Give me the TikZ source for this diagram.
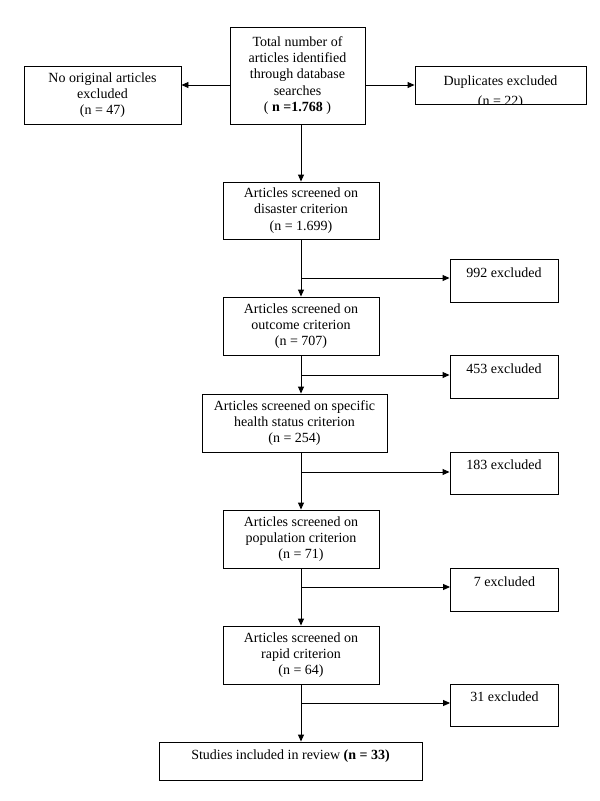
\documentclass[tikz,border=0pt]{standalone}
\usepackage{fontspec}
\setmainfont{Liberation Serif}
\usetikzlibrary{arrows.meta}
\begin{document}
\begin{tikzpicture}[x=1pt,y=-1pt,
  box/.style={draw, line width=0.9pt, inner sep=0pt, align=center, font=\fontsize{14}{16.3}\selectfont},
  exbox/.style={box, minimum width=108pt, minimum height=43pt},
  mainbox/.style={box, minimum width=156pt, minimum height=58pt},
  txt/.style={inner sep=0pt, font=\fontsize{14}{16.3}\selectfont},
  arr/.style={line width=0.9pt, -{Triangle[length=7pt,width=6pt]}},
  ln/.style={line width=0.9pt}]
\useasboundingbox (0,0) rectangle (600,801);

% top row
\node[box, minimum width=135pt, minimum height=97pt] (top) at (297.5,75.5)
  {Total number of\\articles identified\\through database\\searches\\( \textbf{n =1.768} )};
\node[box, minimum width=157pt, minimum height=58pt] (left) at (102.5,95)
  {No original articles\\excluded\\(n = 47)};
\node[box, minimum width=171pt, minimum height=38pt] (dup) at (500.5,85) {};
\node[txt, anchor=base] (dupa) at (500.5,85) {Duplicates excluded};
\begin{scope}
  \clip (415,66) rectangle (586,104);
  \node[txt, anchor=base] (dupb) at (500.5,105) {(n = 22)};
\end{scope}
\coordinate (hy) at (0,85);
\draw[arr] (top.west |- hy) -- (left.east |- hy);
\draw[arr] (top.east |- hy) -- (dup.west |- hy);

% main column
\node[mainbox, minimum height=57pt] (dis) at (301,210.5)
  {Articles screened on\\disaster criterion\\(n = 1.699)};
\node[mainbox] (out) at (301,326)
  {Articles screened on\\outcome criterion\\(n = 707)};
\node[mainbox, minimum width=185pt] (hea) at (294.5,423)
  {Articles screened on specific\\health status criterion\\(n = 254)};
\node[mainbox] (pop) at (301,539)
  {Articles screened on\\population criterion\\(n = 71)};
\node[mainbox] (rap) at (301,655)
  {Articles screened on\\rapid criterion\\(n = 64)};
\node[box, minimum width=263pt, minimum height=38pt] (stu) at (290.5,761)
  {Studies included in review \textbf{(n = 33)}\\[-3pt]\mbox{}};

% excluded boxes
\node[exbox] (ex1) at (504,280.5) {992 excluded\\\mbox{}};
\node[exbox] (ex2) at (504,376.5) {453 excluded\\\mbox{}};
\node[exbox, minimum height=42pt] (ex3) at (504,473) {183 excluded\\\mbox{}};
\node[exbox] (ex4) at (504.5,589.5) {7 excluded\\\mbox{}};
\node[exbox, minimum height=42pt] (ex5) at (504.5,705) {31 excluded\\\mbox{}};

% vertical flow
\draw[arr] (dis.north |- top.south) -- (dis.north);
\draw[arr] (dis.south) -- (out.north);
\draw[arr] (out.south) -- (out.south |- hea.north);
\draw[arr] (out.south |- hea.south) -- (pop.north);
\draw[arr] (pop.south) -- (rap.north);
\draw[arr] (rap.south) -- (rap.south |- stu.north);

% branches
\coordinate (b1) at (301,278);
\coordinate (b2) at (301,375);
\coordinate (b3) at (301,472);
\coordinate (b4) at (301,587);
\coordinate (b5) at (301,703);
\draw[arr] (b1) -- (b1 -| ex1.west);
\draw[arr] (b2) -- (b2 -| ex2.west);
\draw[arr] (b3) -- (b3 -| ex3.west);
\draw[arr] (b4) -- (b4 -| ex4.west);
\draw[arr] (b5) -- (b5 -| ex5.west);
\end{tikzpicture}
\end{document}
